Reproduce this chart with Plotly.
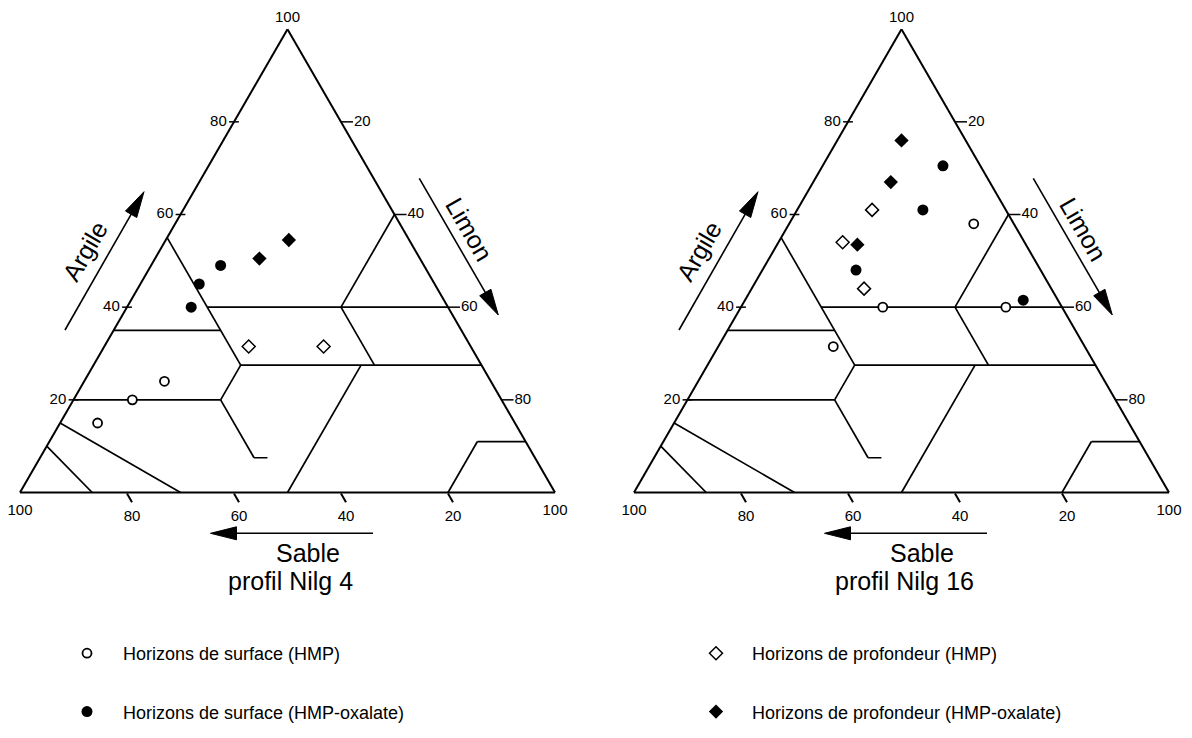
import math
import plotly.graph_objects as go

# ---------------- data ----------------
PROFILE_TITLES = ["profil Nilg 4", "profil Nilg 16"]

# texture-class boundaries of the triangle, one [start, end] pair per segment
SEG_CLAY = [[55, 27.5], [27.5, 20], [20, 7.5], [7.5, 7.5], [0, 27.5], [35, 35], [20, 20],
            [40, 40], [27.5, 27.5], [40, 27.5], [40, 60], [15, 0], [10, 0], [0, 11], [11, 11]]
SEG_SILT = [[0, 27.5], [27.5, 27.5], [27.5, 40], [40, 42.5], [50, 50], [0, 20], [0, 27.5],
            [15, 60], [27.5, 72.5], [40, 52.5], [40, 40], [0, 30], [0, 13.5], [80, 80], [80, 89]]
SEG_SAND = [[45, 45], [45, 52.5], [52.5, 52.5], [52.5, 50], [50, 22.5], [65, 45], [80, 52.5],
            [45, 0], [45, 0], [20, 20], [20, 0], [85, 70], [90, 86.5], [20, 9], [9, 0]]

TICK_VALUES = [20, 40, 60, 80]
TICK_LABELS = ["20", "40", "60", "80"]
CORNER_LABEL = "100"

SERIES_NAMES = ["Horizons de surface (HMP)", "Horizons de surface (HMP-oxalate)",
                "Horizons de profondeur (HMP)", "Horizons de profondeur (HMP-oxalate)"]

# profil Nilg 4
N4_SURF_HMP_CLAY = [15, 20, 24]
N4_SURF_HMP_SILT = [7, 11, 15]
N4_SURF_HMP_SAND = [78, 69, 61]
N4_SURF_OX_CLAY = [40, 45, 49]
N4_SURF_OX_SILT = [12, 11, 13]
N4_SURF_OX_SAND = [48, 44, 38]
N4_PROF_HMP_CLAY = [31.5, 31.5]
N4_PROF_HMP_SILT = [27, 41]
N4_PROF_HMP_SAND = [41.5, 27.5]
N4_PROF_OX_CLAY = [50.5, 54.5]
N4_PROF_OX_SILT = [19.5, 23]
N4_PROF_OX_SAND = [30, 22.5]

# profil Nilg 16
N16_SURF_HMP_CLAY = [31.5, 40, 40, 58]
N16_SURF_HMP_SILT = [21.5, 26.5, 49.5, 34.5]
N16_SURF_HMP_SAND = [47, 33.5, 10.5, 7.5]
N16_SURF_OX_CLAY = [48, 61, 70.5, 41.5]
N16_SURF_OX_SILT = [17.5, 23.5, 22.5, 52]
N16_SURF_OX_SAND = [34.5, 15.5, 7, 6.5]
N16_PROF_HMP_CLAY = [61, 54, 44]
N16_PROF_HMP_SILT = [14, 12, 21]
N16_PROF_HMP_SAND = [25, 34, 35]
N16_PROF_OX_CLAY = [76, 67, 53.5]
N16_PROF_OX_SILT = [12, 14.5, 15]
N16_PROF_OX_SAND = [12, 18.5, 31.5]

PROFILE_SERIES = [
    [(N4_SURF_HMP_CLAY, N4_SURF_HMP_SILT, N4_SURF_HMP_SAND),
     (N4_SURF_OX_CLAY, N4_SURF_OX_SILT, N4_SURF_OX_SAND),
     (N4_PROF_HMP_CLAY, N4_PROF_HMP_SILT, N4_PROF_HMP_SAND),
     (N4_PROF_OX_CLAY, N4_PROF_OX_SILT, N4_PROF_OX_SAND)],
    [(N16_SURF_HMP_CLAY, N16_SURF_HMP_SILT, N16_SURF_HMP_SAND),
     (N16_SURF_OX_CLAY, N16_SURF_OX_SILT, N16_SURF_OX_SAND),
     (N16_PROF_HMP_CLAY, N16_PROF_HMP_SILT, N16_PROF_HMP_SAND),
     (N16_PROF_OX_CLAY, N16_PROF_OX_SILT, N16_PROF_OX_SAND)],
]

# ---------------- styling / layout ----------------
W, H = 1192, 738
TRI_W = 535.0
TRI_H = TRI_W * math.sqrt(3) / 2
TRI_LEFT = [20.0, 634.0]
TRI_BOTTOM = 492.5
FONT = "Arial, 'Liberation Sans', sans-serif"

SERIES_STYLE = [
    dict(symbol="circle", size=9, color="white", line=dict(color="black", width=1.8)),
    dict(symbol="circle", size=11, color="black", line=dict(color="black", width=0)),
    dict(symbol="diamond", size=10, color="white", line=dict(color="black", width=1.5)),
    dict(symbol="diamond", size=11, color="black", line=dict(color="black", width=0)),
]
SERIES_LEGEND = ["legend", "legend", "legend2", "legend2"]


def gapped(pairs):
    out = []
    for p in pairs:
        out += [p[0], p[1], None]
    return out


def paper(x, y):
    return x / W, 1 - y / H


fig = go.Figure()
TRANSPARENT = "rgba(0,0,0,0)"
TICK_FONT = dict(size=15, color="black", family=FONT)

for i, subplot in enumerate(["ternary", "ternary2"]):
    # class boundaries
    fig.add_trace(go.Scatterternary(
        a=gapped(SEG_CLAY), b=gapped(SEG_SAND), c=gapped(SEG_SILT), subplot=subplot,
        mode="lines", line=dict(color="black", width=1.7), connectgaps=False,
        showlegend=False, hoverinfo="skip"))

    # clay ticks (left edge)
    fig.add_trace(go.Scatterternary(
        a=TICK_VALUES, b=[100 - v for v in TICK_VALUES], c=[0] * len(TICK_VALUES),
        subplot=subplot, mode="markers", cliponaxis=False, showlegend=False, hoverinfo="skip",
        marker=dict(symbol="line-ew", size=7, line=dict(color="black", width=1.5))))
    fig.add_trace(go.Scatterternary(
        a=TICK_VALUES, b=[100 - v for v in TICK_VALUES], c=[0] * len(TICK_VALUES),
        subplot=subplot, mode="markers+text", text=TICK_LABELS, textposition="middle left",
        textfont=TICK_FONT, cliponaxis=False, showlegend=False, hoverinfo="skip",
        marker=dict(size=10, color=TRANSPARENT, line=dict(width=0))))

    # silt ticks (right edge)
    fig.add_trace(go.Scatterternary(
        a=[100 - v for v in TICK_VALUES], b=[0] * len(TICK_VALUES), c=TICK_VALUES,
        subplot=subplot, mode="markers", cliponaxis=False, showlegend=False, hoverinfo="skip",
        marker=dict(symbol="line-ns", angle=-90, standoff=6, size=8.6,
                    line=dict(color="black", width=1.5))))
    fig.add_trace(go.Scatterternary(
        a=[100 - v for v in TICK_VALUES], b=[0] * len(TICK_VALUES), c=TICK_VALUES,
        subplot=subplot, mode="markers+text", text=TICK_LABELS, textposition="middle right",
        textfont=TICK_FONT, cliponaxis=False, showlegend=False, hoverinfo="skip",
        marker=dict(size=19, color=TRANSPARENT, line=dict(width=0))))

    # corner labels
    fig.add_trace(go.Scatterternary(
        a=[100], b=[0], c=[0], subplot=subplot, mode="markers+text", text=[CORNER_LABEL],
        textposition="top center", textfont=TICK_FONT,
        cliponaxis=False, showlegend=False, hoverinfo="skip",
        marker=dict(size=4, color=TRANSPARENT, line=dict(width=0))))
    fig.add_trace(go.Scatterternary(
        a=[0, 0], b=[100, 0], c=[0, 100], subplot=subplot, mode="markers+text",
        text=[CORNER_LABEL, CORNER_LABEL],
        textposition="bottom center", textfont=TICK_FONT,
        cliponaxis=False, showlegend=False, hoverinfo="skip",
        marker=dict(size=16, color=TRANSPARENT, line=dict(width=0))))

    # data points
    for k, (clay, silt, sand) in enumerate(PROFILE_SERIES[i]):
        fig.add_trace(go.Scatterternary(
            a=clay, b=sand, c=silt, subplot=subplot, mode="markers",
            name=SERIES_NAMES[k], marker=SERIES_STYLE[k], cliponaxis=False,
            showlegend=(i == 0), legend=SERIES_LEGEND[k], legendgroup=SERIES_NAMES[k],
            hovertemplate="Argile %{a}<br>Sable %{b}<br>Limon %{c}<extra></extra>"))


def ternary_layout(i):
    cx = (TRI_LEFT[i] + TRI_W / 2) / W
    cy = 1 - (TRI_BOTTOM - TRI_H / 2) / H
    hy = TRI_H / H / 2
    common = dict(showgrid=False, showline=True, linecolor="black", linewidth=2, min=0,
                  title=dict(text=""))
    return dict(
        domain=dict(x=[cx - 0.235, cx + 0.235], y=[cy - hy, cy + hy]),
        sum=100, bgcolor="white",
        aaxis=dict(**common, ticks="", showticklabels=False),
        baxis=dict(**common, ticks="outside", ticklen=10, tickwidth=1.5, tickcolor="black",
                   tickmode="array", tickvals=TICK_VALUES, ticktext=TICK_LABELS,
                   tickfont=TICK_FONT),
        caxis=dict(**common, ticks="", showticklabels=False),
    )


# decorations: arrows and titles (pixel positions for the left diagram; right one is shifted)
ARROWS = [((65, 330), (144, 191.7)), ((419.3, 178.3), (498.3, 315)), ((373, 533.3), (210.5, 533.3))]
LABELS = [("Argile", 85, 251, -60, 25), ("Limon", 469.5, 228.5, 60, 25), ("Sable", 308, 553, 0, 25)]
TITLE_POS = (290, 581)

shapes = []
annotations = []


def add_arrow(tail, tip, head_len=26.0, half=6.5):
    dx, dy = tip[0] - tail[0], tip[1] - tail[1]
    L = math.hypot(dx, dy)
    ux, uy = dx / L, dy / L
    bx, by = tip[0] - ux * head_len, tip[1] - uy * head_len
    nx, ny = -uy, ux
    x0, y0 = paper(*tail)
    x1, y1 = paper(bx + ux * 2, by + uy * 2)
    shapes.append(dict(type="line", xref="paper", yref="paper", x0=x0, y0=y0, x1=x1, y1=y1,
                       line=dict(color="black", width=1.6)))
    pts = [tip, (bx + nx * half, by + ny * half), (bx - nx * half, by - ny * half)]
    pp = [paper(*p) for p in pts]
    path = "M {} {} L {} {} L {} {} Z".format(pp[0][0], pp[0][1], pp[1][0], pp[1][1], pp[2][0], pp[2][1])
    shapes.append(dict(type="path", xref="paper", yref="paper", path=path,
                       fillcolor="black", line=dict(color="black", width=1)))


for i in range(2):
    off = TRI_LEFT[i] - TRI_LEFT[0]
    for tail, tip in ARROWS:
        add_arrow((tail[0] + off, tail[1]), (tip[0] + off, tip[1]))
    for text, x, y, ang, size in LABELS:
        px, py = paper(x + off, y)
        annotations.append(dict(text=text, x=px, y=py, xref="paper", yref="paper",
                                xanchor="center", yanchor="middle", showarrow=False,
                                textangle=ang, font=dict(size=size, color="black", family=FONT)))
    px, py = paper(TITLE_POS[0] + off, TITLE_POS[1])
    annotations.append(dict(text=PROFILE_TITLES[i], x=px, y=py, xref="paper", yref="paper",
                            xanchor="center", yanchor="middle", showarrow=False,
                            font=dict(size=25, color="black", family=FONT)))

legend_common = dict(xanchor="left", yanchor="top", orientation="v", itemwidth=62,
                     tracegroupgap=32, traceorder="grouped", bgcolor="rgba(0,0,0,0)",
                     font=dict(size=18, color="black", family=FONT))

fig.update_layout(
    width=W, height=H, margin=dict(l=0, r=0, t=0, b=0, pad=0),
    paper_bgcolor="white", plot_bgcolor="white",
    font=dict(family=FONT, color="black"),
    ternary=ternary_layout(0), ternary2=ternary_layout(1),
    shapes=shapes, annotations=annotations,
    legend=dict(x=51 / W, y=1 - 635 / H, **legend_common),
    legend2=dict(x=680 / W, y=1 - 635 / H, **legend_common),
    showlegend=True,
)

fig.write_html("out.html", config={"displayModeBar": False},
               post_script="document.body.style.margin='0';document.body.style.overflow='hidden';")
